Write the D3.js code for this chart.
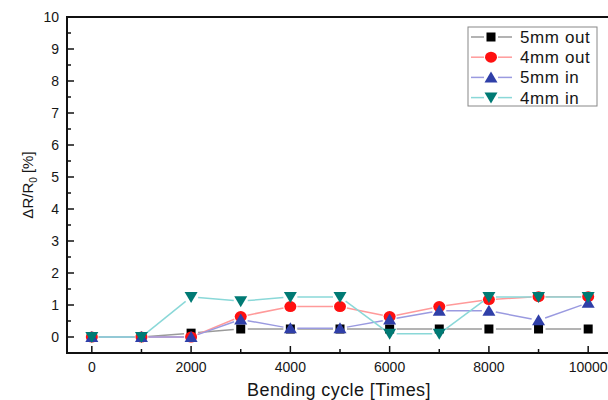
<!DOCTYPE html>
<html>
<head>
<meta charset="utf-8">
<script src="https://d3js.org/d3.v7.min.js"></script>
<style>
  body { margin: 0; background: #fff; }
  text { font-family: "Liberation Sans", Arial, sans-serif; fill: #161616; }
</style>
</head>
<body>
<div id="chart"></div>
<script>
// data
var cycles = [0, 1000, 2000, 3000, 4000, 5000, 6000, 7000, 8000, 9000, 10000];
var out5 = [0, 0, 0.12, 0.25, 0.25, 0.25, 0.25, 0.25, 0.25, 0.25, 0.25];
var out4 = [0, 0, 0, 0.64, 0.95, 0.95, 0.64, 0.95, 1.17, 1.26, 1.26];
var in5  = [0, 0, 0, 0.55, 0.27, 0.27, 0.55, 0.82, 0.82, 0.52, 1.07];
var in4  = [0, 0, 1.25, 1.12, 1.25, 1.25, 0.1, 0.1, 1.25, 1.25, 1.25];
var xTicks = [0, 2000, 4000, 6000, 8000, 10000];
var yTicks = [0, 1, 2, 3, 4, 5, 6, 7, 8, 9, 10];

var series = [
  {name: "5mm out", values: out5, marker: "square",   fill: "#000000", line: "#9a9a9a"},
  {name: "4mm out", values: out4, marker: "circle",   fill: "#ff1010", line: "#ff9a9a"},
  {name: "5mm in",  values: in5,  marker: "triangle", fill: "#2f3fa8", line: "#9a9ae0"},
  {name: "4mm in",  values: in4,  marker: "triangleDown", fill: "#007a74", line: "#8ad8d8"}
];

var W = 608, H = 400;
var svg = d3.select("#chart").append("svg").attr("width", W).attr("height", H);

var x = d3.scaleLinear().domain([-500, 10500]).range([67, 613]);
var y = d3.scaleLinear().domain([-0.5, 10]).range([353, 17]);

// frame
svg.append("rect")
  .attr("x", x(-500)).attr("y", y(10))
  .attr("width", x(10500) - x(-500)).attr("height", y(-0.5) - y(10))
  .attr("fill", "none").attr("stroke", "#111").attr("stroke-width", 2);

// y ticks (inward), major + minor
var yMinor = d3.range(0.5, 10, 1);
svg.selectAll(".ymaj").data(yTicks).enter().append("line")
  .attr("x1", x(-500)).attr("x2", x(-500) + 7)
  .attr("y1", d => y(d)).attr("y2", d => y(d))
  .attr("stroke", "#111").attr("stroke-width", 1.5);
svg.selectAll(".ymin").data(yMinor).enter().append("line")
  .attr("x1", x(-500)).attr("x2", x(-500) + 4)
  .attr("y1", d => y(d)).attr("y2", d => y(d))
  .attr("stroke", "#111").attr("stroke-width", 1.5);
svg.selectAll(".ylab").data(yTicks).enter().append("text")
  .attr("x", 59).attr("y", d => y(d) + 5)
  .attr("text-anchor", "end").attr("font-size", 14)
  .text(d => d);

// x ticks (inward)
var xMinor = [1000, 3000, 5000, 7000, 9000];
svg.selectAll(".xmaj").data(xTicks).enter().append("line")
  .attr("x1", d => x(d)).attr("x2", d => x(d))
  .attr("y1", y(-0.5)).attr("y2", y(-0.5) - 7)
  .attr("stroke", "#111").attr("stroke-width", 1.5);
svg.selectAll(".xmin").data(xMinor).enter().append("line")
  .attr("x1", d => x(d)).attr("x2", d => x(d))
  .attr("y1", y(-0.5)).attr("y2", y(-0.5) - 4)
  .attr("stroke", "#111").attr("stroke-width", 1.5);
svg.selectAll(".xlab").data(xTicks).enter().append("text")
  .attr("x", d => x(d)).attr("y", 372)
  .attr("text-anchor", "middle").attr("font-size", 14)
  .text(d => d);

// axis titles
svg.append("text").attr("x", 339).attr("y", 396)
  .attr("text-anchor", "middle").attr("font-size", 18)
  .attr("letter-spacing", 0.4)
  .text("Bending cycle [Times]");
var yt = svg.append("text")
  .attr("transform", "translate(33,185) rotate(-90)")
  .attr("text-anchor", "middle").attr("font-size", 15);
yt.append("tspan").text("\u0394R/R");
yt.append("tspan").attr("font-size", 10).attr("dy", 4).text("0");
yt.append("tspan").attr("dy", -4).text(" [%]");

function drawMarker(g, type, cx, cy, fill) {
  if (type === "square") {
    g.append("rect").attr("x", cx - 4.5).attr("y", cy - 4.5)
      .attr("width", 9).attr("height", 9).attr("fill", fill);
  } else if (type === "circle") {
    g.append("ellipse").attr("cx", cx).attr("cy", cy)
      .attr("rx", 6).attr("ry", 5.5).attr("fill", fill);
  } else if (type === "triangle") {
    g.append("path").attr("d", "M" + cx + "," + (cy - 6) + "L" + (cx + 6.5) + "," + (cy + 5) + "L" + (cx - 6.5) + "," + (cy + 5) + "Z")
      .attr("fill", fill);
  } else {
    g.append("path").attr("d", "M" + cx + "," + (cy + 6) + "L" + (cx + 6.5) + "," + (cy - 5) + "L" + (cx - 6.5) + "," + (cy - 5) + "Z")
      .attr("fill", fill);
  }
}

// lines with small gaps at markers, then markers
series.forEach(function (s) {
  var g = svg.append("g");
  for (var i = 0; i < cycles.length - 1; i++) {
    var x1 = x(cycles[i]), y1 = y(s.values[i]);
    var x2 = x(cycles[i + 1]), y2 = y(s.values[i + 1]);
    var len = Math.hypot(x2 - x1, y2 - y1), gap = 7;
    if (len <= 2 * gap) continue;
    var ux = (x2 - x1) / len, uy = (y2 - y1) / len;
    g.append("line")
      .attr("x1", x1 + ux * gap).attr("y1", y1 + uy * gap)
      .attr("x2", x2 - ux * gap).attr("y2", y2 - uy * gap)
      .attr("stroke", s.line).attr("stroke-width", 1.5);
  }
  cycles.forEach(function (c, i) {
    drawMarker(g, s.marker, x(c), y(s.values[i]), s.fill);
  });
});

// legend
var lg = svg.append("g");
lg.append("rect").attr("x", 468).attr("y", 27).attr("width", 129).attr("height", 79)
  .attr("fill", "#fff").attr("stroke", "#888").attr("stroke-width", 1);
series.forEach(function (s, i) {
  var cy = 37 + i * 20.2;
  lg.append("line").attr("x1", 471).attr("x2", 484).attr("y1", cy).attr("y2", cy)
    .attr("stroke", s.line).attr("stroke-width", 1.5);
  lg.append("line").attr("x1", 498).attr("x2", 512).attr("y1", cy).attr("y2", cy)
    .attr("stroke", s.line).attr("stroke-width", 1.5);
  drawMarker(lg, s.marker, 491, cy, s.fill);
  lg.append("text").attr("x", 520).attr("y", cy + 6).attr("font-size", 17)
    .attr("letter-spacing", 0.6).text(s.name);
});
</script>
</body>
</html>
